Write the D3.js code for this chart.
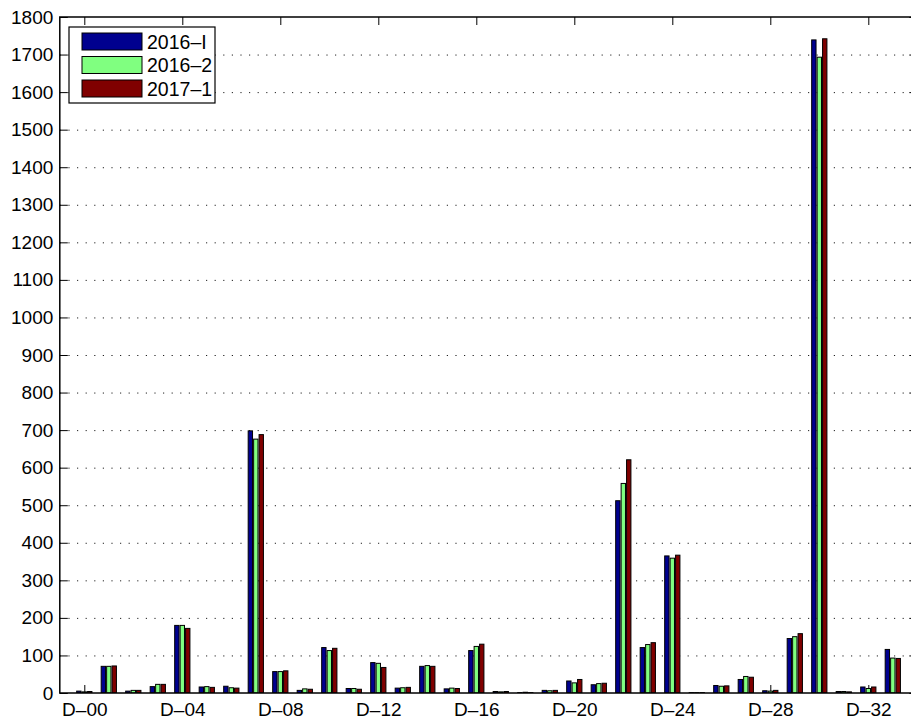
<!DOCTYPE html>
<html>
<head>
<meta charset="utf-8">
<script src="https://cdn.jsdelivr.net/npm/d3@7"></script>
<style>
  html, body { margin: 0; padding: 0; background: #fff; }
  svg { display: block; font-family: "Liberation Sans", Arial, Helvetica, sans-serif; }
</style>
</head>
<body>
<svg id="chart" width="911" height="719"></svg>
<script>
// Category names along the x axis
const categories = [
  "D–00","D–01","D–02","D–03","D–04","D–05","D–06","D–07","D–08","D–09",
  "D–10","D–11","D–12","D–13","D–14","D–15","D–16","D–17","D–18","D–19",
  "D–20","D–21","D–22","D–23","D–24","D–25","D–26","D–27","D–28","D–29",
  "D–30","D–31","D–32","D–33"
];
// Only every fourth category is labelled
const labelledCategories = ["D–00","D–04","D–08","D–12","D–16","D–20","D–24","D–28","D–32"];

// Series names and values
const seriesNames = ["2016–I", "2016–2", "2017–1"];
const values2016I = [5,71,5,17,180,16,18,698,57,7,121,12,81,13,71,11,113,4,1,7,32,22,512,121,365,1,20,36,6,145,1739,4,16,116];
const values2016II = [3,71,7,23,180,17,14,676,57,11,113,12,79,14,73,13,124,3,2,6,27,25,558,129,359,1,18,44,5,150,1693,4,12,93];
const values2017I = [4,72,7,23,172,15,13,688,59,10,119,10,68,15,71,12,130,4,1,7,36,26,621,134,367,1,19,42,7,158,1742,3,16,92];
const seriesColors = ["#00008f", "#80ff80", "#800000"];

// Y axis ticks
const yTicks = [0,100,200,300,400,500,600,700,800,900,1000,1100,1200,1300,1400,1500,1600,1700,1800];

const seriesValues = [values2016I, values2016II, values2017I];

const svg = d3.select("#chart");
const plot = { left: 59.8, right: 917.3, top: 17, bottom: 693 };

// Index-based x scale; one unit of padding on each side of the groups
const x = d3.scaleLinear().domain([-1, categories.length]).range([plot.left, plot.right]);
const y = d3.scaleLinear().domain([0, 1800]).range([plot.bottom, plot.top]);

const nSeries = seriesValues.length;
const groupWidth = Math.min(0.8, nSeries / (nSeries + 1.5));
const step = groupWidth / nSeries;
const barW = step * 0.8;

svg.append("defs").append("clipPath").attr("id", "plotclip")
  .append("rect")
  .attr("x", plot.left).attr("y", plot.top)
  .attr("width", plot.right - plot.left).attr("height", plot.bottom - plot.top);

// Dotted horizontal grid
svg.append("g")
  .selectAll("line")
  .data(yTicks.filter(d => d > 0 && d < 1800))
  .join("line")
  .attr("x1", plot.left).attr("x2", plot.right)
  .attr("y1", d => y(d) + 0.5).attr("y2", d => y(d) + 0.5)
  .attr("stroke", "#222")
  .attr("stroke-width", 1)
  .attr("stroke-dasharray", "1.2,7.4");

const tickIdx = labelledCategories.map(c => categories.indexOf(c));

// Axes (ticks point inward); drawn below the bars
const xAxisBottom = d3.axisBottom(x)
  .tickValues(tickIdx)
  .tickFormat(i => categories[i])
  .tickSize(-8)
  .tickPadding(9.5);
const xAxisTop = d3.axisTop(x).tickValues(tickIdx).tickFormat("").tickSize(-8);
const yAxisLeft = d3.axisLeft(y).tickValues(yTicks).tickFormat(d3.format("d")).tickSize(-8).tickPadding(6.5);
const yAxisRight = d3.axisRight(y).tickValues(yTicks).tickFormat("").tickSize(-8);

function styleAxis(g) {
  g.select(".domain").remove();
  g.selectAll(".tick line").attr("stroke", "#000").attr("stroke-width", 1);
  g.selectAll(".tick text").attr("fill", "#000").attr("font-size", 19)
    .attr("font-family", "'Liberation Sans', Arial, Helvetica, sans-serif");
}

svg.append("g").attr("transform", `translate(0,${plot.bottom})`).call(xAxisBottom).call(styleAxis);
svg.append("g").attr("transform", `translate(0,${plot.top})`).call(xAxisTop).call(styleAxis);
svg.append("g").attr("transform", `translate(${plot.left},0)`).call(yAxisLeft).call(styleAxis);
svg.append("g").attr("transform", `translate(${plot.right},0)`).call(yAxisRight).call(styleAxis);

// Grouped bars
const barsG = svg.append("g").attr("clip-path", "url(#plotclip)");
seriesValues.forEach((vals, s) => {
  const offset = (s - (nSeries - 1) / 2) * step;
  barsG.append("g")
    .selectAll("rect")
    .data(vals)
    .join("rect")
    .attr("x", (d, i) => x(i + offset - barW / 2))
    .attr("width", x(barW) - x(0))
    .attr("y", d => y(d))
    .attr("height", d => y(0) - y(d))
    .attr("fill", seriesColors[s])
    .attr("stroke", "#000")
    .attr("stroke-width", 1);
});

// Axes box
svg.append("rect")
  .attr("x", plot.left).attr("y", plot.top)
  .attr("width", plot.right - plot.left).attr("height", plot.bottom - plot.top)
  .attr("fill", "none").attr("stroke", "#000").attr("stroke-width", 1.5);

// Legend
const legend = svg.append("g").attr("transform", "translate(69,27)");
legend.append("rect")
  .attr("x", 0).attr("y", 0).attr("width", 146).attr("height", 76)
  .attr("fill", "#fff").attr("stroke", "#000").attr("stroke-width", 1.2);
const items = legend.selectAll("g.item")
  .data(seriesNames)
  .join("g").attr("class", "item")
  .attr("transform", (d, i) => `translate(0,${6 + i * 23.5})`);
items.append("rect")
  .attr("x", 13).attr("y", 0).attr("width", 60).attr("height", 17)
  .attr("fill", (d, i) => seriesColors[i])
  .attr("stroke", "#000").attr("stroke-width", 1);
items.append("text")
  .attr("x", 78).attr("y", 15.5)
  .attr("font-size", 19.5)
  .attr("fill", "#000")
  .text(d => d);
</script>
</body>
</html>
